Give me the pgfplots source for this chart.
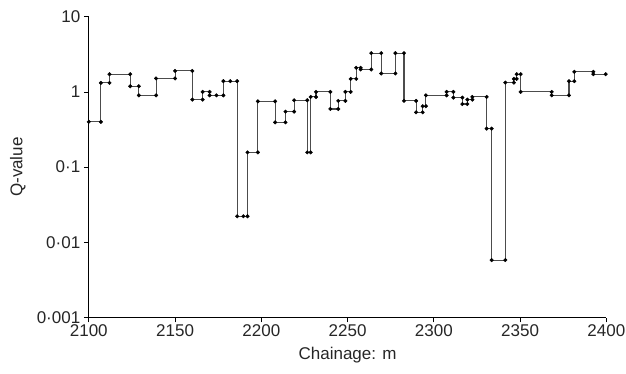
\documentclass[border=0pt]{standalone}
\usepackage{fontspec}
\setmainfont{Liberation Sans}
\usepackage{pgfplots}
\pgfplotsset{compat=1.18}
\begin{document}
\begin{tikzpicture}
\path[use as bounding box] (-88.8pt,-55.5pt) rectangle (537.2pt,317.5pt);
\begin{axis}[
  anchor=south west, at={(0pt,0pt)},
  scale only axis, width=517.6pt, height=300.8pt,
  ymode=log, log basis y=10,
  xmin=2100, xmax=2400, ymin=0.001, ymax=10,
  axis lines=left, axis line style={-, line width=1.3pt, black},
  tick align=outside, major tick length=5pt,
  tick style={line width=0.8pt, black},
  xtick={2100,2150,2200,2250,2300,2350,2400},
  xticklabels={2100,2150,2200,2250,2300,2350,2400},
  ytick={0.001,0.01,0.1,1,10},
  yticklabels={0·001,0·01,0·1,1,10},
  yminorticks=false, xminorticks=false,
  ticklabel style={font=\fontsize{17}{20}\selectfont, text=black!85},
  xticklabel style={yshift=1pt},
  label style={font=\fontsize{17}{20}\selectfont, text=black!85},
  xlabel={Chainage: m},
  ylabel={Q-value},
  xlabel style={at={(axis description cs:0.5,0)}, anchor=center, yshift=-38pt},
  ylabel style={at={(axis description cs:0,0.5)}, anchor=center, rotate=0, yshift=71pt},
  clip=false,
]
\addplot[black!70, line width=1.1pt, mark=*, mark size=1.8pt, mark options={black, fill=black, line width=0.4pt}] coordinates {
(2100,0.4) (2107,0.4) (2107,1.32) (2112,1.32) (2112,1.72) (2124,1.72)
(2124,1.19) (2129,1.19) (2129,0.9) (2139,0.9) (2139,1.51) (2150,1.51)
(2150,1.9) (2160,1.9) (2160,0.79) (2166,0.79) (2166,1.0) (2170,1.0)
(2170,0.9) (2174,0.9) (2178,0.9) (2178,1.39) (2182,1.39) (2186,1.39)
(2186,0.0222) (2189.6,0.0222) (2192,0.0222) (2192,0.157) (2198,0.157)
(2198,0.75) (2208,0.75) (2208,0.394) (2214,0.394) (2214,0.547)
(2219,0.547) (2219,0.775) (2226.6,0.775) (2226.6,0.157) (2228.6,0.157)
(2228.6,0.857) (2231.7,0.857) (2231.7,1.0) (2240,1.0) (2240,0.593)
(2244.6,0.593) (2244.6,0.76) (2248.7,0.76) (2248.7,1.0) (2251.8,1.0)
(2251.8,1.49) (2255,1.49) (2255,2.09) (2257.6,2.09) (2257.6,1.99)
(2263.7,1.99) (2263.7,3.28) (2269.5,3.28) (2269.5,1.76) (2277.7,1.76)
(2277.7,3.28) (2282.7,3.28) (2282.7,0.76) (2289.7,0.76) (2289.7,0.536)
(2293.5,0.536) (2293.5,0.645) (2295.4,0.645) (2295.4,0.9) (2307.4,0.9)
(2307.4,1.0) (2311.3,1.0) (2311.3,0.84) (2316.5,0.84) (2316.5,0.69)
(2319.4,0.69) (2319.4,0.79) (2322.3,0.79) (2322.3,0.857) (2330.6,0.857)
(2330.6,0.325) (2333.5,0.325) (2333.5,0.0058) (2341.4,0.0058)
(2341.4,1.33) (2346.4,1.33) (2346.4,1.49) (2348,1.49) (2348,1.72)
(2350.3,1.72) (2350.3,1.0) (2368.3,1.0) (2368.3,0.9) (2378.3,0.9)
(2378.3,1.39) (2381.4,1.39) (2381.4,1.85) (2392.4,1.85) (2392.4,1.72)
(2399.6,1.72)
};
\end{axis}
\end{tikzpicture}
\end{document}
